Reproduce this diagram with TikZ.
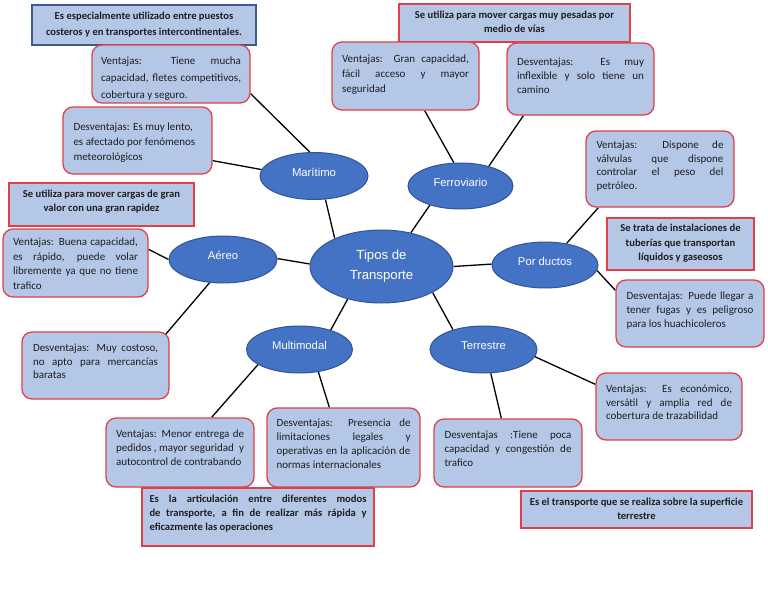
\documentclass[tikz,border=0pt]{standalone}
\usepackage{fontspec}
\setmainfont{Carlito}
\newfontfamily\arialf{Liberation Sans}
\usetikzlibrary{shapes.geometric,backgrounds}
\definecolor{ellfill}{HTML}{4472C4}
\definecolor{elldraw}{HTML}{2F5597}
\definecolor{boxfill}{HTML}{B4C7E7}
\definecolor{boxred}{HTML}{E0404A}
\definecolor{boxblue}{HTML}{3C5A8C}
\definecolor{txt}{HTML}{1E1E1E}
\def\bfs{11}
\def\bbfs{10.6}
% width, height, first-line offset, alignment, text, baselineskip
\newcommand{\btxt}[6]{\parbox[c][#2pt][t]{#1pt}{\fontsize{\bfs}{#6pt}\selectfont\sloppy\hbadness=10000 #4\rule{0pt}{#3pt}#5}}
\newcommand{\bbtxt}[6]{\parbox[c][#2pt][t]{#1pt}{\fontsize{\bbfs}{#6pt}\selectfont\sloppy\hbadness=10000 #4\rule{0pt}{#3pt}#5}}
\begin{document}
\begin{tikzpicture}[x=1pt,y=-1pt,
  rbox/.style={draw=boxred, fill=boxfill, line width=1.3pt, rounded corners=10pt, inner sep=0pt, text=txt},
  sbox/.style={draw=boxred, fill=boxfill, line width=1.5pt, inner sep=0pt, text=txt, font=\bfseries},
  ell/.style={ellipse, fill=ellfill, draw=elldraw, line width=1pt, inner sep=0pt, text=white, font=\arialf\fontsize{11.3}{14}\selectfont},
  ellt/.style={ell, text height=8.5pt, text depth=8pt},
  conn/.style={draw=black, line width=1.3pt}]
\useasboundingbox (0,0) rectangle (768,594);

% ellipses
\node[ell, minimum width=143pt, minimum height=73pt, align=center, font=\arialf\fontsize{13.2}{20}\selectfont] (tip) at (381.5,266.5) {Tipos de\\Transporte};
\node[ellt, minimum width=108pt, minimum height=47pt] (mar) at (314,176) {Marítimo};
\node[ellt, minimum width=108pt, minimum height=47pt] (aer) at (223,259.5) {Aéreo};
\node[ellt, minimum width=105pt, minimum height=46pt] (fer) at (460.5,186) {Ferroviario};
\node[ellt, minimum width=106pt, minimum height=46pt] (por) at (545,265) {Por ductos};
\node[ellt, minimum width=106pt, minimum height=47pt] (mm) at (299.5,349.5) {Multimodal};
\node[ellt, minimum width=107pt, minimum height=47pt] (ter) at (483.5,349.5) {Terrestre};

% Maritimo boxes
\node[sbox, draw=boxblue, minimum width=224pt, minimum height=40pt] (mtop) at (144,25)
  {\bbtxt{214}{40}{14.5}{\centering}{Es especialmente utilizado entre puestos\\costeros y en transportes intercontinentales.}{16}};
\node[rbox, minimum width=158pt, minimum height=58pt] (mven) at (171,74)
  {\btxt{140}{58}{19.5}{}{Ventajas: Tiene mucha\linebreak capacidad, fletes competitivos,\linebreak cobertura y seguro.}{17}};
\node[rbox, minimum width=149pt, minimum height=67pt] (mdes) at (137.5,140.5)
  {\btxt{128}{67}{23.5}{\raggedright}{Desventajas: Es muy lento,\\es afectado por fenómenos\\meteorológicos}{15}};

% Aereo boxes
\node[sbox, minimum width=185pt, minimum height=43pt] (atop) at (101.5,204.5)
  {\bbtxt{177}{43}{14.5}{\centering}{Se utiliza para mover cargas de gran\\valor con una gran rapidez}{13.5}};
\node[rbox, minimum width=145pt, minimum height=68pt] (aven) at (75.5,263)
  {\btxt{125}{68}{16.5}{}{Ventajas: Buena capacidad,\linebreak es rápido, puede volar\linebreak libremente ya que no tiene\linebreak trafico}{14.5}};
\node[rbox, minimum width=147pt, minimum height=67pt] (ades) at (95.5,365.5)
  {\btxt{125}{67}{19.5}{}{Desventajas: Muy costoso,\linebreak no apto para mercancías\linebreak baratas}{13.5}};

% Ferroviario boxes
\node[sbox, minimum width=231pt, minimum height=38pt] (fmtop) at (514.5,23)
  {\bbtxt{222}{38}{14.5}{\centering}{Se utiliza para mover cargas muy pesadas por\\medio de vías}{14}};
\node[rbox, minimum width=147pt, minimum height=68pt] (fven) at (405.5,76)
  {\btxt{127}{68}{20.5}{}{Ventajas: Gran capacidad,\linebreak fácil acceso y mayor\linebreak seguridad}{15}};
\node[rbox, minimum width=147pt, minimum height=72pt] (fdes) at (580.5,79)
  {\btxt{127}{72}{22.5}{}{Desventajas: Es muy\linebreak inflexible y solo tiene un\linebreak camino}{14}};

% Por ductos boxes
\node[rbox, minimum width=148pt, minimum height=76pt] (pven) at (660,169)
  {\btxt{127}{76}{17.5}{}{Ventajas: Dispone de\linebreak válvulas que dispone\linebreak controlar el peso del\linebreak petróleo.}{13.5}};
\node[sbox, minimum width=147pt, minimum height=52pt] (ptop) at (680.5,244)
  {\bbtxt{139}{52}{13.5}{\centering}{Se trata de instalaciones de\\tuberías que transportan\\líquidos y gaseosos}{14.5}};
\node[rbox, minimum width=148pt, minimum height=67pt] (pdes) at (690,313.5)
  {\btxt{127}{67}{19.5}{}{Desventajas: Puede llegar a\linebreak tener fugas y es peligroso\linebreak para los huachicoleros}{14}};

% Terrestre boxes
\node[rbox, minimum width=146pt, minimum height=67pt] (tven) at (669,406.5)
  {\btxt{126}{67}{19.5}{}{Ventajas: Es económico,\linebreak versátil y amplia red de\linebreak cobertura de trazabilidad}{13.7}};
\node[rbox, minimum width=148pt, minimum height=68pt] (tdes) at (508,453)
  {\btxt{127}{68}{19.5}{}{Desventajas :Tiene poca\linebreak capacidad y congestión de\linebreak trafico}{14}};
\node[sbox, minimum width=231pt, minimum height=37pt] (ttop) at (636.5,509.5)
  {\bbtxt{224}{37}{14.5}{\centering}{Es el transporte que se realiza sobre la superficie\\terrestre}{14}};

% Multimodal boxes
\node[rbox, minimum width=148pt, minimum height=69pt] (mmven) at (180,452.5)
  {\btxt{128}{69}{19.5}{}{Ventajas: Menor entrega de\linebreak pedidos , mayor seguridad \ y\linebreak autocontrol de contrabando}{14}};
\node[rbox, minimum width=153pt, minimum height=79pt] (mmdes) at (343.5,447.5)
  {\btxt{134}{79}{18.5}{}{Desventajas: Presencia de\linebreak limitaciones legales y\linebreak operativas en la aplicación de\linebreak normas internacionales}{14}};
\node[sbox, minimum width=232pt, minimum height=58pt] (mmtop) at (258,517)
  {\bbtxt{217}{58}{14.5}{}{Es la articulación entre diferentes modos\linebreak de transporte, a fin de realizar más rápida y\linebreak eficazmente las operaciones}{14}};

\begin{pgfonlayer}{background}
\fill[white] (0,0) rectangle (768,594);
\draw[conn] (mar.100) -- ([yshift=10pt]mven.south east);
\draw[conn] (mar.173) -- ([yshift=14pt]mdes.south east);
\draw[conn] (mar.-64) -- (tip.149);
\draw[conn] (aer.180) -- ([yshift=-21pt]aven.north east);
\draw[conn] (aer.1) -- (tip.178);
\draw[conn] (aer.-120) -- ([xshift=-4pt,yshift=-3pt]ades.north east);
\draw[conn] (tip.-136) -- (mm.32);
\draw[conn] (mm.-160) -- ([xshift=-43pt]mmven.north east);
\draw[conn] (mm.-50) -- ([xshift=63pt]mmdes.north west);
\draw[conn] (fer.106) -- ([xshift=-55pt]fven.south east);
\draw[conn] (fer.35) -- ([xshift=17pt]fdes.south west);
\draw[conn] (fer.-148) -- (tip.49);
\draw[conn] (tip.0) -- (por.179);
\draw[conn] (por.45) -- ([xshift=13pt]pven.south west);
\draw[conn] (por.-6) -- ([yshift=-11pt]pdes.north west);
\draw[conn] (tip.-27) -- (ter.147);
\draw[conn] (ter.-8) -- ([yshift=-12pt]tven.north west);
\draw[conn] (ter.-73) -- ([xshift=68pt]tdes.north west);
\end{pgfonlayer}
\end{tikzpicture}
\end{document}
